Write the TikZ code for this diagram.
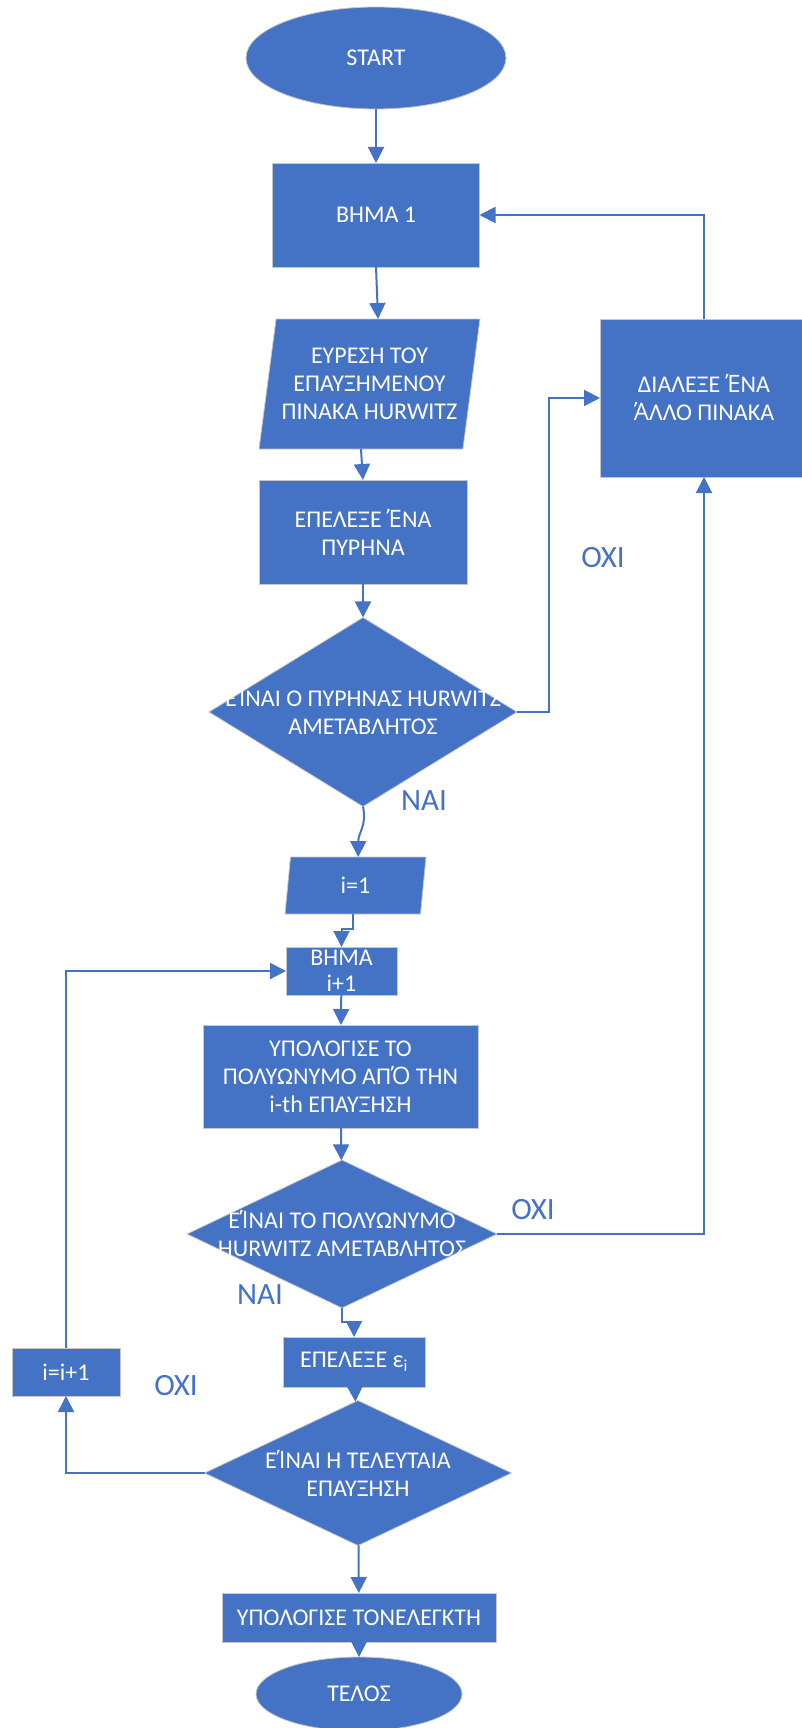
\documentclass[tikz,border=0pt]{standalone}
\usepackage{fontspec}
\setmainfont{Carlito}
\newfontfamily\tonosfont{Open Sans}
\usetikzlibrary{arrows.meta,shapes.geometric,positioning}
\definecolor{officeblue}{HTML}{4472C4}
\newcommand{\tonos}[1]{{\tonosfont #1}}

\begin{document}
\begin{tikzpicture}[x=1pt,y=-1pt,
    block/.style={rectangle,fill=officeblue,draw=black!22,line width=0.8pt,text=white,align=center,inner sep=0pt,outer sep=0pt},
    io/.style={trapezium,trapezium stretches body,fill=officeblue,draw=black!22,line width=0.8pt,text=white,align=center,inner sep=0pt,outer sep=0pt},
    decision/.style={diamond,fill=officeblue,draw=black!22,line width=0.8pt,inner sep=0pt,outer sep=0pt},
    terminal/.style={ellipse,fill=officeblue,draw=black!22,line width=0.8pt,text=white,inner sep=0pt,outer sep=0pt},
    txt/.style={text=white,align=center,inner sep=0pt},
    answer/.style={text=officeblue,font=\fontsize{31}{36}\selectfont}]
\useasboundingbox (0,0) rectangle (802,1728);
\begin{scope}[font=\fontsize{24}{28}\selectfont]
    \node[terminal,minimum width=260,minimum height=102] (start) at (376,58) {START};
    \node[block,minimum width=207,minimum height=104] (step1) at (376,215) {ΒΗΜΑ 1};
    \node[io,trapezium left angle=76.6,trapezium right angle=103.4,minimum width=221,minimum height=130] (find) at (369.5,384) {ΕΥΡΕΣΗ ΤΟΥ\\ΕΠΑΥΞΗΜΕΝΟΥ\\ΠΙΝΑΚΑ HURWITZ};
    \node[block,minimum width=208,minimum height=104] (pick) at (363,532) {ΕΠΕΛΕΞΕ \tonos{Έ}ΝΑ\\ΠΥΡΗΝΑ};
    \node[decision,minimum width=308,minimum height=189] (chk1) at (363,712) {};
    \node[txt] at (chk1) {Ε\tonos{Ί}ΝΑΙ Ο ΠΥΡΗΝΑΣ HURWITZ\\ΑΜΕΤΑΒΛΗΤΟΣ};
    \node[block,minimum width=208,minimum height=158] (other) at (704,398) {ΔΙΑΛΕΞΕ \tonos{Έ}ΝΑ\\\tonos{Ά}ΛΛΟ ΠΙΝΑΚΑ};
    \node[io,trapezium left angle=71.6,trapezium right angle=108.4,minimum width=141,minimum height=57] (i1) at (355.5,885.5) {i=1};
    \node[block,minimum width=111,minimum height=48] (stepi) at (341.5,971) {ΒΗΜΑ\\[-2pt]i+1};
    \node[block,minimum width=275,minimum height=103] (poly) at (340.5,1076.5) {ΥΠΟΛΟΓΙΣΕ ΤΟ\\ΠΟΛΥΩΝΥΜΟ ΑΠ\tonos{Ό} ΤΗΝ\\i-th ΕΠΑΥΞΗΣΗ};
    \node[decision,minimum width=310,minimum height=148] (chk2) at (342,1234) {};
    \node[txt] at (chk2) {Ε\tonos{Ί}ΝΑΙ ΤΟ ΠΟΛΥΩΝΥΜΟ\\HURWITZ ΑΜΕΤΑΒΛΗΤΟΣ};
    \node[block,minimum width=142,minimum height=50] (eps) at (354,1362) {ΕΠΕΛΕΞΕ ε\textsubscript{i}};
    \node[decision,minimum width=307,minimum height=145] (chk3) at (358,1473) {};
    \node[txt] at (chk3) {Ε\tonos{Ί}ΝΑΙ Η ΤΕΛΕΥΤΑΙΑ\\ΕΠΑΥΞΗΣΗ};
    \node[block,minimum width=108,minimum height=48] (inc) at (66,1372) {i=i+1};
    \node[block,minimum width=274,minimum height=49] (calc) at (359,1617.5) {ΥΠΟΛΟΓΙΣΕ ΤΟΝΕΛΕΓΚΤΗ};
    \node[terminal,minimum width=206,minimum height=74] (stop) at (359,1694) {ΤΕΛΟΣ};
\end{scope}
\node[answer] (no1) at (603,558) {ΟΧΙ};
\node[answer] (yes1) at (424,801) {ΝΑΙ};
\node[answer] (no2) at (533,1210) {ΟΧΙ};
\node[answer] (yes2) at (260,1295) {ΝΑΙ};
\node[answer] (no3) at (176,1386) {ΟΧΙ};
\begin{scope}[>={Triangle[length=16pt,width=16pt]},
              every path/.style={draw=officeblue,line width=2pt}]
    \draw[->] (start) -- (step1);
    \draw[->] (step1.south) -- (find.top side);
    \draw[->] (find.bottom side) -- (pick.north);
    \draw[->] (pick) -- (chk1);
    \draw[->] (chk1.east) -- ++(32,0) |- (other.west);
    \draw[->] (other.north) |- (step1.east);
    \draw[->] (chk1.south) .. controls ++(4,20) and ++(0,-25) .. (i1.top side);
    \draw[->] (i1.bottom side) -- ++(0,15) -| (stepi.north);
    \draw[->] (stepi) -- (poly);
    \draw[->] (poly) -- (chk2);
    \draw[->] (chk2.east) -| (other.south);
    \draw[->] (chk2.south) -- ++(0,14) -| (eps.north);
    \draw[->] (eps) -- (chk3);
    \draw[->] (chk3.west) -| (inc.south);
    \draw[->] (inc.north) |- (stepi.west);
    \draw[->] (chk3) -- (calc);
    \draw[->] (calc) -- (stop);
\end{scope}
\end{tikzpicture}
\end{document}
